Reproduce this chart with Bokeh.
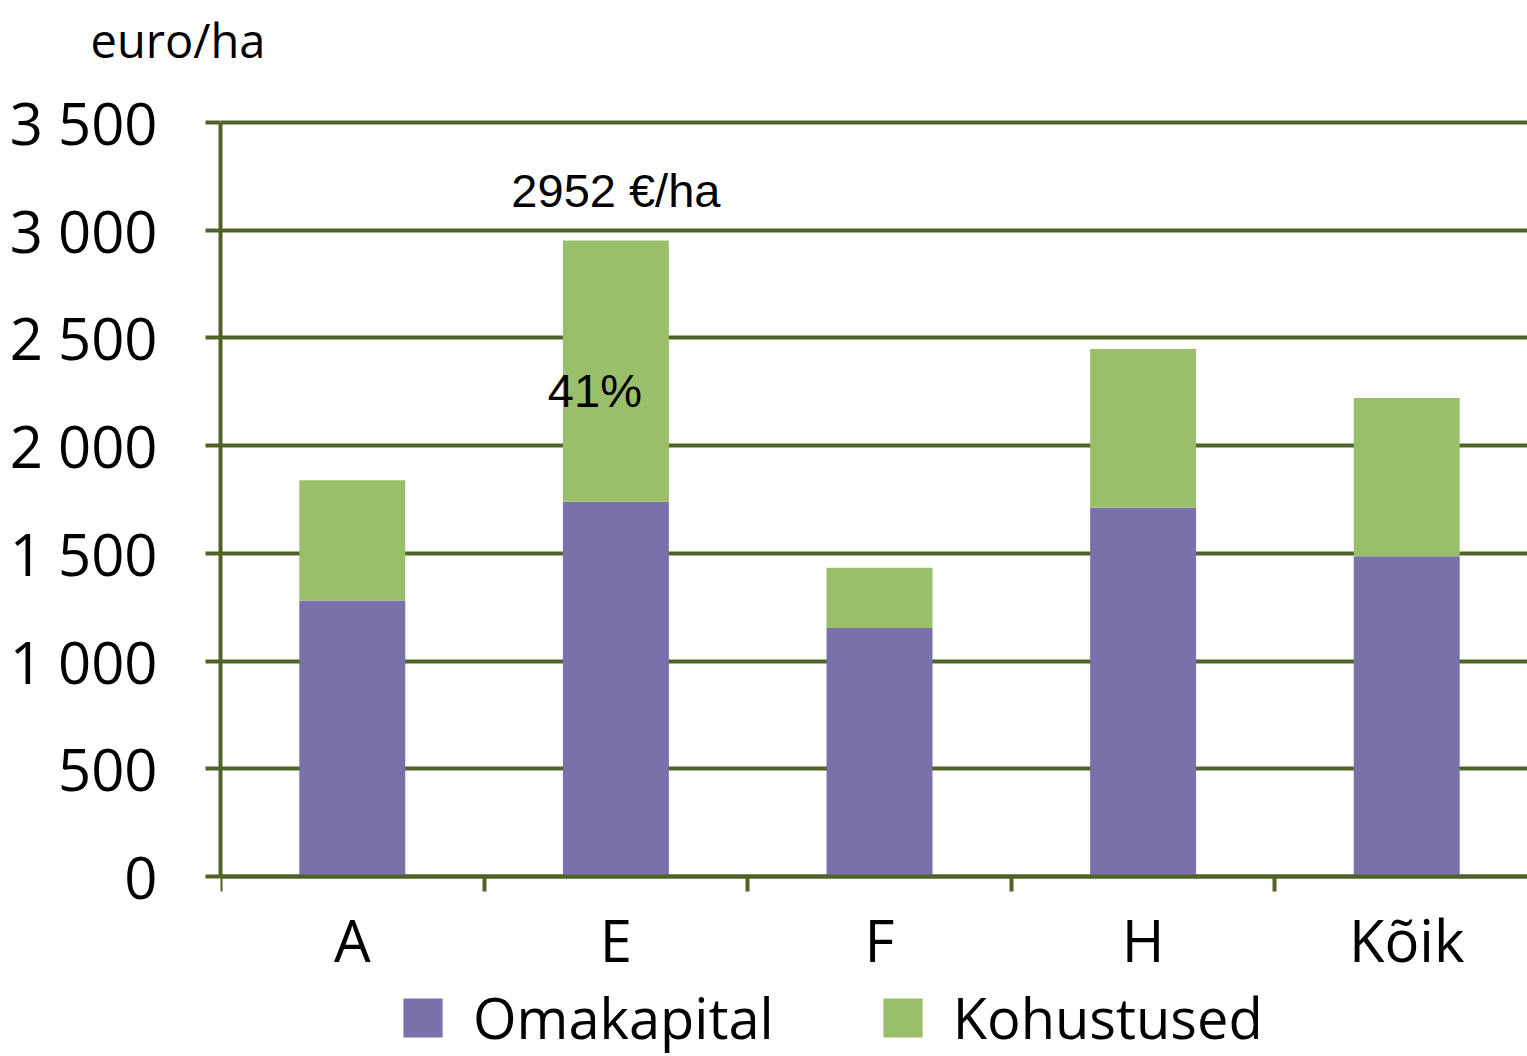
from bokeh.plotting import figure
from bokeh.layouts import column
from bokeh.models import (Range1d, FixedTicker, Legend, LegendItem, Title,
                          ColumnDataSource)
from bokeh.core.properties import value
from bokeh.embed import file_html
from bokeh.resources import INLINE

# ---- data ----
categories = ["A", "E", "F", "H", "Kõik"]
omakapital = [1281, 1740, 1154, 1712, 1486]
kohustused = [558, 1212, 279, 737, 735]
series_names = ["Omakapital", "Kohustused"]
y_ticks = [0, 500, 1000, 1500, 2000, 2500, 3000, 3500]
y_tick_labels = ["0", "500", "1 000", "1 500", "2 000", "2 500", "3 000", "3 500"]
unit_label = "euro/ha"
highlight = "E"

# ---- styles ----
PURPLE = "#7A70AA"
GREEN = "#9ABF6A"
OLIVE = "#4F6228"
FONT = "Open Sans"

xs = [i + 0.5 for i in range(len(categories))]
totals = [a + b for a, b in zip(omakapital, kohustused)]
bounds = list(range(len(categories) + 1))
y_max = y_ticks[-1]

W, H = 1527, 1056
HEAD = 78                       # height of the header strip holding the unit
LEFT = 220
TOP_PX, ZERO_PX = 122, 876      # page rows of the top gridline and the zero line
cat_px = 263.6
frame_w = W - LEFT
s = (ZERO_PX - TOP_PX) / y_max
y_end = (ZERO_PX - HEAD) / s
y_start = -(H - ZERO_PX) / s

# ---- header with the unit ----
hdr = figure(width=W, height=HEAD, output_backend="svg", toolbar_location=None,
             x_range=Range1d(0, 1), y_range=Range1d(0, 1),
             min_border_left=LEFT, min_border_right=0, min_border_top=0,
             min_border_bottom=0)
hdr.axis.visible = False
hdr.grid.visible = False
hdr.outline_line_color = None
hdr.background_fill_color = "white"
hdr.border_fill_color = "white"
hdr.title = Title(text=unit_label, align="left", offset=-130, standoff=10,
                  text_font=FONT, text_font_size="47px", text_font_style="normal",
                  text_color="black")

# ---- main chart ----
p = figure(width=W, height=H - HEAD, output_backend="svg", toolbar_location=None,
           x_range=Range1d(0, frame_w / cat_px), y_range=Range1d(y_start, y_end),
           min_border_left=LEFT, min_border_right=0, min_border_top=0,
           min_border_bottom=0)
p.outline_line_color = None
p.background_fill_color = "white"
p.border_fill_color = "white"

src = ColumnDataSource(dict(x=xs, own=omakapital, total=totals, zero=[0] * len(xs)))
r1 = p.vbar(x="x", bottom="zero", top="own", width=0.402, source=src,
            fill_color=PURPLE, line_color=None)
r2 = p.vbar(x="x", bottom="own", top="total", width=0.402, source=src,
            fill_color=GREEN, line_color=None)

# grid
p.xgrid.grid_line_color = None
p.ygrid.grid_line_color = OLIVE
p.ygrid.grid_line_width = 4
p.ygrid.ticker = FixedTicker(ticks=y_ticks)

# y axis
ya = p.yaxis[0]
ya.ticker = FixedTicker(ticks=y_ticks)
ya.bounds = (0, y_max)
ya.major_label_overrides = {t: l for t, l in zip(y_ticks, y_tick_labels)}
ya.axis_line_color = OLIVE
ya.axis_line_width = 4
ya.major_tick_line_color = OLIVE
ya.major_tick_line_width = 4
ya.major_tick_out = 15
ya.major_tick_in = 0
ya.minor_tick_line_color = None
ya.major_label_text_font = FONT
ya.major_label_text_font_size = "58px"
ya.major_label_text_color = "black"
ya.major_label_standoff = 48

# x axis, fixed at value 0
xa = p.xaxis[0]
xa.fixed_location = 0
xa.ticker = FixedTicker(ticks=xs, minor_ticks=bounds)
xa.major_label_overrides = {x: c for x, c in zip(xs, categories)}
xa.axis_line_color = OLIVE
xa.axis_line_width = 4
xa.major_tick_line_color = None
xa.minor_tick_line_color = OLIVE
xa.minor_tick_line_width = 4
xa.minor_tick_out = 15
xa.minor_tick_in = 0
xa.major_label_text_font = FONT
xa.major_label_text_font_size = "58px"
xa.major_label_text_color = "black"
xa.major_label_standoff = 8

# annotations for highlighted category
i = categories.index(highlight)
share = round(kohustused[i] / totals[i] * 100)
ann = ColumnDataSource(dict(x=[xs[i]], y=[totals[i]], t=[f"{totals[i]} €/ha"]))
p.text(x="x", y="y", text="t", source=ann, y_offset=-50,
       text_align="center", text_baseline="middle",
       text_font=value("Liberation Sans"), text_font_size="47px", text_color="black")
ann2 = ColumnDataSource(dict(x=[xs[i]], y=[(omakapital[i] + totals[i]) / 2], t=[f"{share}%"]))
p.text(x="x", y="y", text="t", source=ann2, x_offset=-21, y_offset=19,
       text_align="center", text_baseline="middle",
       text_font=value("Liberation Sans"), text_font_size="47px", text_color="black")

legend = Legend(items=[LegendItem(label=series_names[0], renderers=[r1]),
                       LegendItem(label=series_names[1], renderers=[r2])],
                orientation="horizontal", location=(178, 1), padding=0, margin=0,
                spacing=104, glyph_width=49, glyph_height=49, label_standoff=26,
                label_text_font=FONT, label_text_font_size="56px",
                label_text_color="black",
                border_line_color=None, background_fill_alpha=0)
p.add_layout(legend)

layout = column(hdr, p, spacing=0)
open("out.html", "w").write(file_html(layout, INLINE))
